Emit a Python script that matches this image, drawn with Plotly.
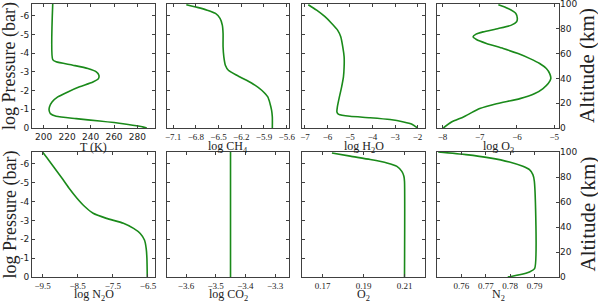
import plotly.graph_objects as go

# --- Profiles (y = log pressure in bar) ---
T_LOGP = [-6.63, -3.66, -3.54, -3.36, -3.18, -3.0, -2.82, -2.64, -2.46, -2.2, -1.93,
          -1.66, -1.39, -1.125, -0.95, -0.77, -0.625, -0.5, -0.375, -0.23, -0.09, 0.0]
T_VALS = [207.7, 207.7, 210.6, 224.9, 237.7, 244.9, 247.1, 246.7, 242.0, 230.6, 220.6,
          212.0, 207.1, 204.9, 204.6, 205.7, 210.6, 227.7, 247.7, 267.7, 282.0, 288.0]

CH4_LOGP = [-6.59, -6.45, -6.30, -6.125, -5.86, -5.5, -5.05, -4.34, -3.8, -3.36, -3.09,
            -2.82, -2.55, -2.29, -2.02, -1.66, -1.3, -0.95, -0.59, 0.0]
CH4_VALS = [-6.925, -6.78, -6.65, -6.54, -6.48, -6.45, -6.44, -6.44, -6.43, -6.41, -6.37,
            -6.26, -6.13, -6.02, -5.93, -5.85, -5.82, -5.80, -5.79, -5.79]

H2O_LOGP = [-6.59, -6.30, -5.95, -5.59, -5.23, -4.875, -4.34, -3.80, -3.27, -2.73, -2.2,
            -1.66, -1.125, -0.86, -0.73, -0.625, -0.55, -0.45, -0.32, -0.2, 0.0]
H2O_VALS = [-6.85, -6.48, -6.11, -5.81, -5.55, -5.41, -5.32, -5.26, -5.26, -5.29, -5.37,
            -5.47, -5.56, -5.58, -5.50, -5.0, -4.11, -3.22, -2.62, -2.25, -2.0]

O3_LOGP = [-6.59, -6.39, -6.125, -5.86, -5.68, -5.5, -5.32, -5.14, -5.02, -4.875, -4.73,
           -4.52, -4.25, -3.98, -3.71, -3.45, -3.18, -2.91, -2.64, -2.375, -2.11, -1.84,
           -1.57, -1.30, -1.04, -0.77, -0.59, -0.32, 0.0]
O3_VALS = [-6.5, -6.24, -6.03, -5.99, -6.01, -6.15, -6.5, -6.91, -7.1, -7.18, -7.09,
           -6.82, -6.37, -5.97, -5.65, -5.39, -5.21, -5.12, -5.09, -5.16, -5.30, -5.52,
           -5.92, -6.55, -7.0, -7.27, -7.44, -7.76, -7.98]

N2O_LOGP = [-6.63, -6.32, -5.78, -5.25, -4.72, -4.18, -3.74, -3.38, -3.11, -2.85, -2.58,
            -2.31, -1.96, -1.51, -0.98, 0.0]
N2O_VALS = [-9.5, -9.375, -9.16, -8.95, -8.75, -8.52, -8.30, -8.06, -7.68, -7.20, -6.91,
            -6.72, -6.60, -6.55, -6.53, -6.52]

CO2_LOGP = [-6.63, 0.0]
CO2_VALS = [-3.45, -3.45]

O2_LOGP = [-6.58, -6.41, -6.23, -6.05, -5.87, -5.6, -5.34, -5.07, 0.0]
O2_VALS = [0.1746, 0.1835, 0.1933, 0.2014, 0.2063, 0.2087, 0.2097, 0.21, 0.21]

N2_LOGP = [-6.63, -6.49, -6.32, -6.10, -5.87, -5.69, -5.43, -5.07, -0.44, -0.27, -0.12, 0.0]
N2_VALS = [0.7505, 0.7619, 0.7715, 0.7797, 0.7852, 0.7879, 0.7893, 0.7899, 0.79, 0.7879,
           0.7838, 0.779]

# --- Axis ticks ---
LOGP_TICKS = [0, -1, -2, -3, -4, -5, -6]
LOGP_LABELS = ["0", "-1", "-2", "-3", "-4", "-5", "-6"]
ALT_TICKS = [0, 20, 40, 60, 80, 100]

T_TICKS = [200, 220, 240, 260, 280]
CH4_TICKS = [-7.1, -6.8, -6.5, -6.2, -5.9, -5.6]
H2O_TICKS = [-7, -6, -5, -4, -3, -2]
O3_TICKS = [-8, -7, -6, -5]
N2O_TICKS = [-9.5, -8.5, -7.5, -6.5]
CO2_TICKS = [-3.6, -3.5, -3.4, -3.3]
O2_TICKS = [0.17, 0.19, 0.21]
N2_TICKS = [0.76, 0.77, 0.78, 0.79]

W, H = 598, 304
SERIF = "Liberation Serif, DejaVu Serif, serif"
SANS = "DejaVu Sans, sans-serif"
FRAME = "#404040"
GREEN = "#1a8a1a"
TXT = "#222"

panels = [
    # x, y, title, xrange, xticks, tick font
    (T_VALS, T_LOGP, "T (K)", [190, 295], T_TICKS, SANS),
    (CH4_VALS, CH4_LOGP, "log CH<sub>4</sub>", [-7.18, -5.57], CH4_TICKS, SERIF),
    (H2O_VALS, H2O_LOGP, "log H<sub>2</sub>O", [-7.13, -1.67], H2O_TICKS, SERIF),
    (O3_VALS, O3_LOGP, "log O<sub>3</sub>", [-8.15, -4.87], O3_TICKS, SERIF),
    (N2O_VALS, N2O_LOGP, "log N<sub>2</sub>O", [-9.8, -6.3], N2O_TICKS, SERIF),
    (CO2_VALS, CO2_LOGP, "log CO<sub>2</sub>", [-3.664, -3.253], CO2_TICKS, SERIF),
    (O2_VALS, O2_LOGP, "O<sub>2</sub>", [0.16, 0.22], O2_TICKS, SERIF),
    (N2_VALS, N2_LOGP, "N<sub>2</sub>", [0.75, 0.80], N2_TICKS, SERIF),
]

# pixel boxes of the panels
col_px = [(32, 155), (167, 289), (302, 425), (437, 559)]
row_px = [(4, 128), (152, 277)]
xtitle_px = [146.5, 294.5]  # centre line of x titles per row

fig = go.Figure()
layout = {}
notes = []

for i, (xv, yv, title, xr, xt, tfont) in enumerate(panels):
    n = i + 1
    r, c = divmod(i, 4)
    xa = "xaxis" if n == 1 else f"xaxis{n}"
    ya = "yaxis" if n == 1 else f"yaxis{n}"
    xref = "x" if n == 1 else f"x{n}"
    yref = "y" if n == 1 else f"y{n}"

    fig.add_trace(
        go.Scatter(
            x=xv, y=yv, mode="lines", line=dict(color=GREEN, width=1.6, shape="spline", smoothing=0.6),
            xaxis=xref, yaxis=yref, showlegend=False, hoverinfo="skip",
        )
    )

    x0, x1 = col_px[c]
    top, bot = row_px[r]
    layout[xa] = dict(
        domain=[x0 / W, x1 / W], anchor=yref, range=xr, automargin=False,
        tickvals=xt, ticks="inside", ticklen=3, tickcolor=FRAME,
        showline=True, linecolor=FRAME, linewidth=1, mirror="ticks",
        showgrid=False, zeroline=False,
        tickfont=dict(family=tfont, size=9, color=TXT),
    )
    layout[ya] = dict(
        domain=[(H - bot) / H, (H - top) / H], anchor=xref, range=[0, -6.63], automargin=False,
        tickvals=LOGP_TICKS, ticktext=LOGP_LABELS if c == 0 else [""] * len(LOGP_TICKS),
        ticks="inside", ticklen=3, tickcolor=FRAME, ticklabeloverflow="allow",
        showline=True, linecolor=FRAME, linewidth=1,
        mirror=True if c == 3 else "ticks",
        showgrid=False, zeroline=False,
        tickfont=dict(family=SANS, size=9, color=TXT),
    )
    notes.append(dict(
        text=title, x=(x0 + x1) / 2 / W, y=(H - xtitle_px[r]) / H,
        xref="paper", yref="paper", xanchor="center", yanchor="middle", showarrow=False,
        font=dict(family=SERIF, size=12, color=TXT),
    ))
    if c == 0:
        notes.append(dict(
            text="log Pressure (bar)", x=10 / W, y=(H - (top + bot) / 2) / H, textangle=-90,
            xref="paper", yref="paper", xanchor="center", yanchor="middle", showarrow=False,
            font=dict(family=SERIF, size=18, color=TXT),
        ))

# altitude axes on the right of the last column
for k, n in enumerate([4, 8]):
    alt_n = 9 + k
    fig.add_trace(
        go.Scatter(x=[None], y=[None], xaxis=f"x{n}", yaxis=f"y{alt_n}",
                   showlegend=False, hoverinfo="skip")
    )
    layout[f"yaxis{alt_n}"] = dict(
        overlaying=f"y{n}", anchor=f"x{n}", side="right", range=[0, 100], automargin=False,
        tickvals=ALT_TICKS, ticks="inside", ticklen=3, tickcolor=FRAME,
        ticklabeloverflow="allow",
        showline=False, showgrid=False, zeroline=False,
        tickfont=dict(family=SANS, size=9, color=TXT),
    )
    top, bot = row_px[k]
    notes.append(dict(
        text="Altitude (km)", x=587 / W, y=(H - (top + bot) / 2) / H, textangle=-90,
        xref="paper", yref="paper", xanchor="center", yanchor="middle", showarrow=False,
        font=dict(family=SERIF, size=21, color=TXT),
    ))

fig.update_layout(
    width=W, height=H,
    margin=dict(l=0, r=0, t=0, b=0),
    paper_bgcolor="white", plot_bgcolor="white",
    annotations=notes,
    **layout,
)

# drop the default page margin so the figure sits at the window's corner
fig.write_html(
    "out.html",
    config={"displayModeBar": False},
    post_script="document.body.style.margin='0';document.body.style.overflow='hidden';",
)
